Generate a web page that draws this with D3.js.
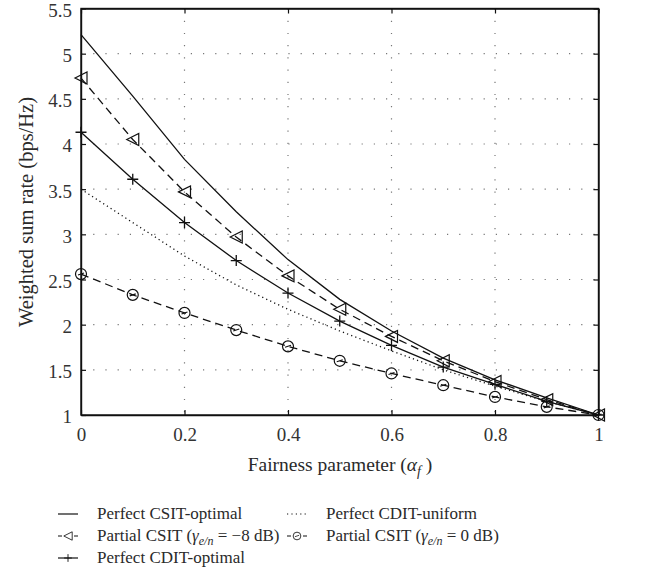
<!DOCTYPE html>
<html>
<head>
<meta charset="utf-8">
<script src="https://cdnjs.cloudflare.com/ajax/libs/d3/7.8.5/d3.min.js"></script>
<style>
  body { margin: 0; background: #fff; }
  svg text { font-family: 'Liberation Serif', 'DejaVu Serif', 'Times New Roman', Times, serif !important; fill: #2a2a2a; }
</style>
</head>
<body>
<svg id="chart" width="658" height="581" font-family="Liberation Serif"></svg>
<script>
// data
var alpha = [0, 0.1, 0.2, 0.3, 0.4, 0.5, 0.6, 0.7, 0.8, 0.9, 1];

var csit_opt   = [5.21, 4.53, 3.83, 3.25, 2.72, 2.28, 1.93, 1.63, 1.39, 1.19, 1.0];
var partial_m8 = [4.73, 4.05, 3.47, 2.97, 2.54, 2.17, 1.87, 1.60, 1.37, 1.17, 1.0];
var cdit_opt   = [4.13, 3.61, 3.13, 2.71, 2.35, 2.04, 1.77, 1.53, 1.34, 1.15, 1.0];
var cdit_unif  = [3.50, 3.13, 2.76, 2.44, 2.17, 1.93, 1.71, 1.50, 1.32, 1.15, 1.0];
var partial_0  = [2.56, 2.33, 2.13, 1.94, 1.76, 1.60, 1.46, 1.33, 1.20, 1.09, 1.0];

var x_ticks = [0, 0.2, 0.4, 0.6, 0.8, 1];
var y_ticks = [1, 1.5, 2, 2.5, 3, 3.5, 4, 4.5, 5, 5.5];

var serif = "'Liberation Serif', 'DejaVu Serif', serif";

var margin = {left: 81, top: 8.5};
var width = 598.5 - margin.left;
var height = 415 - margin.top;

var svg = d3.select('#chart');
var g = svg.append('g').attr('transform', 'translate(' + margin.left + ',' + margin.top + ')');

var x = d3.scaleLinear().domain([0, 1]).range([0, width]);
var y = d3.scaleLinear().domain([1, 5.5]).range([height, 0]);

// grid
g.append('g').selectAll('line')
  .data(x_ticks.slice(1, -1))
  .enter().append('line')
  .attr('x1', function(d){ return x(d); })
  .attr('x2', function(d){ return x(d); })
  .attr('y1', 0).attr('y2', height)
  .style('stroke', '#777').style('stroke-width', 1.2)
  .style('stroke-dasharray', '1.2,11');

g.append('g').selectAll('line')
  .data(y_ticks.slice(1, -1))
  .enter().append('line')
  .attr('y1', function(d){ return y(d); })
  .attr('y2', function(d){ return y(d); })
  .attr('x1', 0).attr('x2', width)
  .style('stroke', '#777').style('stroke-width', 1.2)
  .style('stroke-dasharray', '1.2,11');

// axes (ticks inward)
var fmt = function(d){ return d3.format('')(d); };
var xAxis = d3.axisBottom(x).tickValues(x_ticks).tickSizeInner(-5).tickSizeOuter(0).tickPadding(13).tickFormat(fmt);
var yAxis = d3.axisLeft(y).tickValues(y_ticks).tickSizeInner(-5).tickSizeOuter(0).tickPadding(9).tickFormat(fmt);

g.append('g').attr('transform', 'translate(0,' + height + ')').call(xAxis);
var gy = g.append('g').call(yAxis);
g.append('g').call(d3.axisTop(x).tickValues(x_ticks).tickSizeInner(-5).tickSizeOuter(0).tickFormat(''));
g.append('g').attr('transform', 'translate(' + width + ',0)')
  .call(d3.axisRight(y).tickValues(y_ticks).tickSizeInner(-5).tickSizeOuter(0).tickFormat(''));

g.selectAll('g').attr('font-family', serif);
g.selectAll('.domain').style('stroke', '#111').style('stroke-width', 1.4);
g.selectAll('.tick line').style('stroke', '#111').style('stroke-width', 1.2);
g.selectAll('.tick text').attr('font-family', serif).style('font-size', '19px').style('fill', '#333');
gy.selectAll('.tick text').attr('dy', '0.42em');

g.append('rect').attr('width', width).attr('height', height)
  .style('fill', 'none').style('stroke', '#111').style('stroke-width', 1.4);

// series
var line = d3.line()
  .x(function(d, i){ return x(alpha[i]); })
  .y(function(d){ return y(d); });

var series = [
  {name: 'csit_opt', data: csit_opt, dash: null, marker: null},
  {name: 'partial_m8', data: partial_m8, dash: '8,5', marker: 'tri'},
  {name: 'cdit_opt', data: cdit_opt, dash: null, marker: 'plus'},
  {name: 'cdit_unif', data: cdit_unif, dash: '1.2,3.2', marker: null},
  {name: 'partial_0', data: partial_0, dash: '8,5', marker: 'circ'}
];

function draw_marker(sel, type, cx, cy){
  if (type === 'tri'){
    var s = 6;
    sel.append('path')
      .attr('d', 'M' + (cx - s) + ',' + cy + 'L' + (cx + s) + ',' + (cy - s) + 'L' + (cx + s) + ',' + (cy + s) + 'Z')
      .style('fill', 'none').style('stroke', '#111').style('stroke-width', 1.2);
  } else if (type === 'plus'){
    var p = 5.5;
    sel.append('path')
      .attr('d', 'M' + (cx - p) + ',' + cy + 'H' + (cx + p) + 'M' + cx + ',' + (cy - p) + 'V' + (cy + p))
      .style('stroke', '#111').style('stroke-width', 1.3);
  } else if (type === 'circ'){
    sel.append('circle').attr('cx', cx).attr('cy', cy).attr('r', 5.5)
      .style('fill', 'none').style('stroke', '#111').style('stroke-width', 1.2);
    sel.append('line').attr('x1', cx - 3).attr('x2', cx + 3).attr('y1', cy + 1).attr('y2', cy - 1)
      .style('stroke', '#111').style('stroke-width', 1.1);
  }
}

series.forEach(function(s){
  g.append('path').datum(s.data)
    .attr('d', line)
    .style('fill', 'none')
    .style('stroke', '#111')
    .style('stroke-width', 1.3)
    .style('stroke-dasharray', s.dash);
  if (s.marker){
    var mg = g.append('g');
    s.data.forEach(function(d, i){
      draw_marker(mg, s.marker, x(alpha[i]), y(d));
    });
  }
});

// axis labels
var xl = svg.append('text')
  .attr('x', 340).attr('y', 471)
  .attr('text-anchor', 'middle')
  .attr('font-family', serif)
  .style('font-size', '19.5px');
xl.append('tspan').text('Fairness parameter (');
xl.append('tspan').style('font-style', 'italic').text('α');
xl.append('tspan').style('font-style', 'italic').style('font-size', '14px').attr('dy', 5).text('f');
xl.append('tspan').attr('dy', -5).text(' )');

svg.append('text')
  .attr('transform', 'translate(33,212) rotate(-90)')
  .attr('text-anchor', 'middle')
  .attr('font-family', serif)
  .style('font-size', '20.5px')
  .text('Weighted sum rate (bps/Hz)');

// legend
var legend_items = [
  {col: 0, row: 0, dash: null, marker: null, label: ['Perfect CSIT-optimal']},
  {col: 1, row: 0, dash: '1.2,3.2', marker: null, label: ['Perfect CDIT-uniform']},
  {col: 0, row: 1, dash: '4,12', marker: 'tri', label: ['Partial CSIT (', 'γ', 'e/n', ' = −8 dB)']},
  {col: 1, row: 1, dash: '4,12', marker: 'circ', label: ['Partial CSIT (', 'γ', 'e/n', ' = 0 dB)']},
  {col: 0, row: 2, dash: null, marker: 'plus', label: ['Perfect CDIT-optimal']}
];

var col_x = [58, 287];
var row_y = [514, 536, 558];

legend_items.forEach(function(it){
  var lx = col_x[it.col], ly = row_y[it.row];
  var lg = svg.append('g');
  lg.append('line').attr('x1', lx).attr('x2', lx + 20).attr('y1', ly).attr('y2', ly)
    .style('stroke', '#111').style('stroke-width', 1.2)
    .style('stroke-dasharray', it.dash);
  if (it.marker){
    var mg = svg.append('g').attr('transform', 'translate(' + (lx + 10) + ',' + ly + ') scale(0.7)');
    draw_marker(mg, it.marker, 0, 0);
  }
  var t = lg.append('text').attr('x', lx + 39).attr('y', ly + 5)
    .attr('font-family', serif).style('font-size', '17px');
  if (it.label.length === 1){
    t.text(it.label[0]);
  } else {
    t.append('tspan').text(it.label[0]);
    t.append('tspan').style('font-style', 'italic').text(it.label[1]);
    t.append('tspan').style('font-style', 'italic').style('font-size', '12px').attr('dy', 4).text(it.label[2]);
    t.append('tspan').attr('dy', -4).text(it.label[3]);
  }
});
</script>
</body>
</html>
